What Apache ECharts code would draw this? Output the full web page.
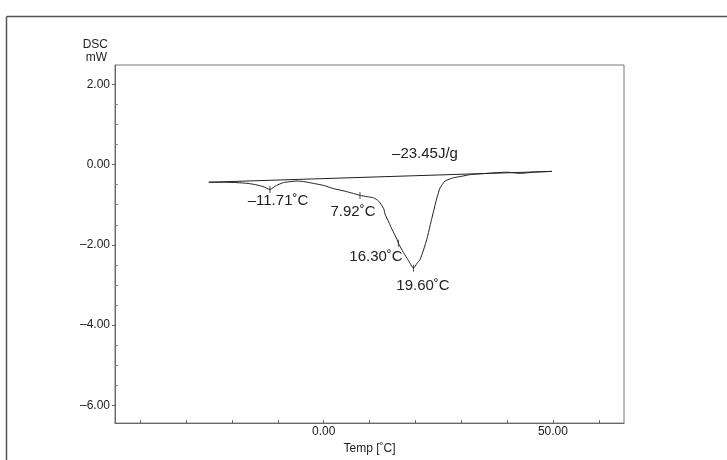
<!DOCTYPE html>
<html>
<head>
<meta charset="utf-8">
<script src="https://cdn.jsdelivr.net/npm/echarts@6/dist/echarts.min.js"></script>
<style>
html,body{margin:0;padding:0;background:#fff;}
#c{width:727px;height:460px;}
</style>
</head>
<body>
<div id="c"></div>
<script>
// ---- data ----
const curveT = [-25.05,-21.5,-18.9,-16.5,-14.9,-13.2,-11.71,-10.3,-8.8,-7.6,-5.8,-4.0,-2.2,0.0,2.2,4.5,6.5,8.0,9.5,10.9,12.0,13.1,13.4,14.2,14.9,16.0,16.3,17.4,18.5,19.6,20.3,21.1,22.5,23.2,24.0,24.7,25.4,26.5,28.3,30.2,32.0,35.6,40.0,42.9,45.8,49.8];
const curveDSC = [-0.44,-0.44,-0.45,-0.47,-0.50,-0.55,-0.62,-0.52,-0.45,-0.43,-0.41,-0.43,-0.47,-0.52,-0.60,-0.66,-0.72,-0.77,-0.80,-0.83,-0.91,-1.10,-1.24,-1.43,-1.61,-1.86,-1.96,-2.19,-2.39,-2.58,-2.47,-2.35,-1.86,-1.53,-1.15,-0.83,-0.58,-0.41,-0.33,-0.29,-0.25,-0.22,-0.19,-0.22,-0.19,-0.17];
const baselineT = [-25.05, 49.8];
const baselineDSC = [-0.44, -0.17];
const peakT = [-11.71, 7.92, 16.30, 19.60];
const peakDSC = [-0.62, -0.77, -1.96, -2.58];
const peakLabels = ['–11.71˚C', '7.92˚C', '16.30˚C', '19.60˚C'];
const enthalpyLabel = '–23.45J/g';
const xLabelValues = [0, 50];
const xTickValues = [-40, -30, -20, -10, 0, 10, 20, 30, 40, 50, 60];
const yLabelValues = [-6, -4, -2, 0, 2];
const yMinorValues = [-5.5, -5, -4.5, -3.5, -3, -2.5, -1.5, -1, -0.5, 0.5, 1, 1.5];
const xName = 'Temp [˚C]';
const yName = ['DSC', 'mW'];

// ---- chart ----
const fmt = v => (v < 0 ? '–' + Math.abs(v).toFixed(2) : v.toFixed(2));
const font = 'Liberation Sans, Arial, sans-serif';
const chart = echarts.init(document.getElementById('c'), null, {renderer: 'canvas'});
const pair = (a, b) => a.map((v, i) => [v, b[i]]);

const annPos = [[278, 201], [353, 212], [376, 257], [423, 286]];

chart.setOption({
  animation: false,
  backgroundColor: '#fff',
  grid: {left: 115, right: 103, top: 65, bottom: 35, show: true, borderColor: '#777', borderWidth: 1},
  xAxis: {
    type: 'value', min: -45.5, max: 65.5,
    name: xName, nameLocation: 'middle', nameGap: 15,
    nameTextStyle: {fontFamily: font, fontSize: 12, color: '#222'},
    axisLine: {onZero: false, lineStyle: {color: '#666'}},
    axisTick: {inside: true, length: 3, customValues: xTickValues, lineStyle: {color: '#666'}},
    axisLabel: {customValues: xLabelValues, formatter: fmt, margin: 3, fontFamily: font, fontSize: 12, color: '#222'},
    splitLine: {show: false}
  },
  yAxis: [{
    type: 'value', min: -6.44, max: 2.48, position: 'left',
    axisLine: {show: true, onZero: false, lineStyle: {color: '#666'}},
    axisTick: {inside: false, length: 3, customValues: yLabelValues, lineStyle: {color: '#666'}},
    axisLabel: {customValues: yLabelValues, formatter: fmt, margin: 5, fontFamily: font, fontSize: 12, color: '#222'},
    splitLine: {show: false}
  }, {
    type: 'value', min: -6.44, max: 2.48, position: 'left',
    axisLine: {show: false, onZero: false},
    axisTick: {show: true, inside: true, length: 3, customValues: yMinorValues, lineStyle: {color: '#888'}},
    axisLabel: {show: false},
    splitLine: {show: false}
  }],
  series: [{
    type: 'line', data: pair(curveT, curveDSC), showSymbol: false, smooth: 0.2,
    lineStyle: {color: '#222', width: 1}
  }, {
    type: 'line', data: pair(baselineT, baselineDSC), showSymbol: false,
    lineStyle: {color: '#222', width: 1}
  }, {
    type: 'scatter', data: pair(peakT, peakDSC), symbol: 'rect', symbolSize: [1, 7],
    itemStyle: {color: '#222'}
  }],
  graphic: [
    {type: 'line', shape: {x1: 6.5, y1: 16.5, x2: 727, y2: 16.5}, style: {stroke: '#555', lineWidth: 1.5}},
    {type: 'line', shape: {x1: 6.5, y1: 16.5, x2: 6.5, y2: 460}, style: {stroke: '#555', lineWidth: 1.5}},
    {type: 'text', x: 108, y: 45, style: {text: yName[0], font: '12px ' + font, fill: '#222', textAlign: 'right', textVerticalAlign: 'middle'}},
    {type: 'text', x: 107, y: 58, style: {text: yName[1], font: '12px ' + font, fill: '#222', textAlign: 'right', textVerticalAlign: 'middle'}},
    {type: 'text', x: 425, y: 154, style: {text: enthalpyLabel, font: '15px ' + font, fill: '#222', textAlign: 'center', textVerticalAlign: 'middle'}}
  ].concat(peakLabels.map((t, i) => ({
    type: 'text', x: annPos[i][0], y: annPos[i][1],
    style: {text: t, font: '15px ' + font, fill: '#222', textAlign: 'center', textVerticalAlign: 'middle'}
  })))
});
</script>
</body>
</html>
